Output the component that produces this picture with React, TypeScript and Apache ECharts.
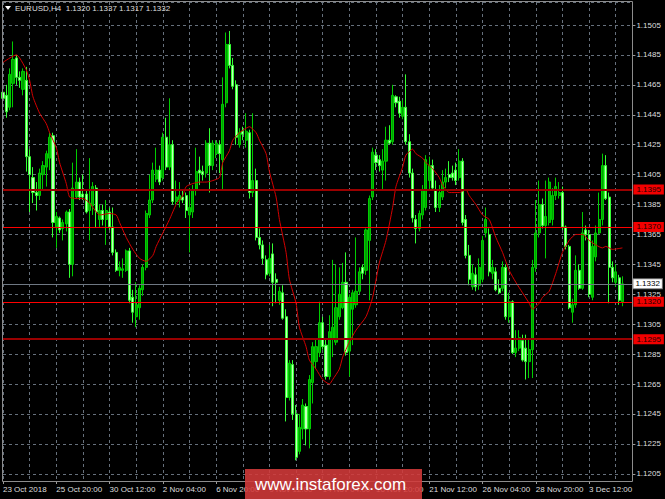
import { useEffect, useRef } from "react";
import * as echarts from "echarts";

// ---------- data ----------
const symbolName = "EURUSD,H4";
const lastBarOHLC = [1.132, 1.1337, 1.1317, 1.1332];

const timeLabels = [
  "23 Oct 2018", "25 Oct 20:00", "30 Oct 12:00", "2 Nov 04:00", "6 Nov 20:00", "9 Nov 12:00",
  "14 Nov 04:00", "16 Nov 20:00", "21 Nov 12:00", "26 Nov 04:00", "28 Nov 20:00", "3 Dec 12:00",
];
const barsPerLabel = 16;
const barsPerGridLine = 8;
const slotCount = 190; // 187 H4 bars + empty space on the right

// [open, close, low, high]
const candles: number[][] = [
  [1.1460, 1.1456, 1.1452, 1.1466], [1.1458, 1.1447, 1.1443, 1.1465], [1.1450, 1.1472, 1.1448, 1.1476],
  [1.1466, 1.1482, 1.1450, 1.1494], [1.1483, 1.1470, 1.1465, 1.1485], [1.1470, 1.1468, 1.1463, 1.1474],
  [1.1462, 1.1474, 1.1458, 1.1476], [1.1468, 1.1417, 1.1407, 1.1477], [1.1417, 1.1405, 1.1380, 1.1422],
  [1.1403, 1.1393, 1.1386, 1.1410], [1.1393, 1.1391, 1.1381, 1.1400], [1.1391, 1.1406, 1.1388, 1.1409],
  [1.1405, 1.1411, 1.1395, 1.1414], [1.1410, 1.1419, 1.1397, 1.1421], [1.1416, 1.1430, 1.1408, 1.1433],
  [1.1431, 1.1373, 1.1363, 1.1433], [1.1370, 1.1377, 1.1356, 1.1380], [1.1376, 1.1368, 1.1366, 1.1377],
  [1.1369, 1.1373, 1.1361, 1.1375], [1.1372, 1.1380, 1.1367, 1.1381], [1.1380, 1.1345, 1.1336, 1.1382],
  [1.1345, 1.1396, 1.1337, 1.1413], [1.1390, 1.1400, 1.1389, 1.1422], [1.1400, 1.1390, 1.1388, 1.1403],
  [1.1392, 1.1390, 1.1388, 1.1405], [1.1392, 1.1380, 1.1379, 1.1395], [1.1381, 1.1386, 1.1361, 1.1416],
  [1.1384, 1.1397, 1.1378, 1.1400], [1.1396, 1.1380, 1.1370, 1.1398], [1.1375, 1.1381, 1.1370, 1.1385],
  [1.1381, 1.1375, 1.1371, 1.1385], [1.1375, 1.1381, 1.1358, 1.1388], [1.1380, 1.1370, 1.1368, 1.1383],
  [1.1370, 1.1353, 1.1351, 1.1383], [1.1353, 1.1341, 1.1340, 1.1355], [1.1341, 1.1343, 1.1337, 1.1347],
  [1.1341, 1.1342, 1.1336, 1.1349], [1.1341, 1.1354, 1.1340, 1.1355], [1.1354, 1.1321, 1.1319, 1.1356],
  [1.1323, 1.1313, 1.1306, 1.1328], [1.1310, 1.1318, 1.1303, 1.1333], [1.1316, 1.1329, 1.1308, 1.1331],
  [1.1328, 1.1343, 1.1324, 1.1345], [1.1343, 1.1379, 1.1341, 1.1381], [1.1378, 1.1388, 1.1376, 1.1405],
  [1.1388, 1.1408, 1.1386, 1.1413], [1.1402, 1.1408, 1.1400, 1.1423], [1.1408, 1.1400, 1.1398, 1.1411],
  [1.1403, 1.1430, 1.1401, 1.1433], [1.1430, 1.1410, 1.1408, 1.1443], [1.1410, 1.1425, 1.1408, 1.1456],
  [1.1425, 1.1387, 1.1385, 1.1428], [1.1387, 1.1390, 1.1385, 1.1401], [1.1388, 1.1391, 1.1383, 1.1400],
  [1.1390, 1.1388, 1.1386, 1.1395], [1.1391, 1.1381, 1.1376, 1.1393], [1.1378, 1.1383, 1.1353, 1.1396],
  [1.1380, 1.1395, 1.1376, 1.1398], [1.1395, 1.1407, 1.1391, 1.1423], [1.1408, 1.1406, 1.1398, 1.1417],
  [1.1407, 1.1405, 1.1401, 1.1411], [1.1406, 1.1426, 1.1403, 1.1428], [1.1426, 1.1411, 1.1393, 1.1436],
  [1.1411, 1.1426, 1.1408, 1.1428], [1.1419, 1.1426, 1.1416, 1.1428], [1.1425, 1.1419, 1.1406, 1.1428],
  [1.1415, 1.1452, 1.1395, 1.1470], [1.1453, 1.1492, 1.1450, 1.1500], [1.1492, 1.1478, 1.1476, 1.1501],
  [1.1478, 1.1464, 1.1462, 1.1483], [1.1465, 1.1430, 1.1425, 1.1468], [1.1425, 1.1433, 1.1423, 1.1436],
  [1.1434, 1.1432, 1.1428, 1.1437], [1.1428, 1.1434, 1.1423, 1.1446], [1.1433, 1.1393, 1.1389, 1.1435],
  [1.1393, 1.1401, 1.1390, 1.1446], [1.1401, 1.1363, 1.1361, 1.1409], [1.1363, 1.1358, 1.1355, 1.1369],
  [1.1358, 1.1349, 1.1345, 1.1361], [1.1348, 1.1338, 1.1335, 1.1351], [1.1339, 1.1349, 1.1337, 1.1358],
  [1.1352, 1.1333, 1.1317, 1.1359], [1.1335, 1.1333, 1.1319, 1.1339], [1.1321, 1.1327, 1.1318, 1.1330],
  [1.1326, 1.1309, 1.1308, 1.1331], [1.1310, 1.1256, 1.1240, 1.1315], [1.1256, 1.1279, 1.1254, 1.1281],
  [1.1278, 1.1245, 1.1241, 1.1281], [1.1245, 1.1216, 1.1214, 1.1251], [1.1220, 1.1236, 1.1218, 1.1245],
  [1.1235, 1.1251, 1.1228, 1.1255], [1.1250, 1.1235, 1.1224, 1.1252], [1.1235, 1.1268, 1.1222, 1.1271],
  [1.1266, 1.1290, 1.1252, 1.1293], [1.1280, 1.1290, 1.1275, 1.1295], [1.1286, 1.1306, 1.1283, 1.1320],
  [1.1306, 1.1290, 1.1288, 1.1310], [1.1291, 1.1270, 1.1268, 1.1295], [1.1270, 1.1300, 1.1268, 1.1311],
  [1.1295, 1.1303, 1.1283, 1.1348], [1.1293, 1.1316, 1.1291, 1.1345], [1.1310, 1.1325, 1.1308, 1.1343],
  [1.1316, 1.1333, 1.1315, 1.1346], [1.1333, 1.1286, 1.1284, 1.1353], [1.1287, 1.1323, 1.1270, 1.1325],
  [1.1315, 1.1326, 1.1291, 1.1328], [1.1318, 1.1327, 1.1316, 1.1363], [1.1327, 1.1340, 1.1325, 1.1343],
  [1.1343, 1.1339, 1.1335, 1.1345], [1.1341, 1.1368, 1.1338, 1.1369], [1.1361, 1.1389, 1.1321, 1.1391],
  [1.1390, 1.1420, 1.1388, 1.1423], [1.1418, 1.1413, 1.1408, 1.1422], [1.1415, 1.1411, 1.1407, 1.1418],
  [1.1408, 1.1414, 1.1395, 1.1422], [1.1414, 1.1428, 1.1401, 1.1437], [1.1428, 1.1426, 1.1425, 1.1438],
  [1.1427, 1.1458, 1.1425, 1.1465], [1.1457, 1.1453, 1.1450, 1.1458], [1.1454, 1.1446, 1.1443, 1.1457],
  [1.1444, 1.1450, 1.1442, 1.1455], [1.1450, 1.1427, 1.1425, 1.1472], [1.1427, 1.1406, 1.1403, 1.1432],
  [1.1406, 1.1376, 1.1373, 1.1409], [1.1375, 1.1369, 1.1359, 1.1378], [1.1369, 1.1379, 1.1367, 1.1381],
  [1.1378, 1.1395, 1.1375, 1.1398], [1.1383, 1.1415, 1.1381, 1.1418], [1.1401, 1.1411, 1.1395, 1.1417],
  [1.1411, 1.1396, 1.1395, 1.1415], [1.1395, 1.1383, 1.1380, 1.1401], [1.1383, 1.1393, 1.1380, 1.1398],
  [1.1390, 1.1400, 1.1388, 1.1408], [1.1400, 1.1403, 1.1396, 1.1409], [1.1405, 1.1403, 1.1400, 1.1414],
  [1.1406, 1.1403, 1.1401, 1.1411], [1.1408, 1.1401, 1.1398, 1.1413], [1.1403, 1.1414, 1.1401, 1.1422],
  [1.1414, 1.1373, 1.1371, 1.1416], [1.1375, 1.1351, 1.1349, 1.1378], [1.1351, 1.1335, 1.1331, 1.1358],
  [1.1330, 1.1339, 1.1328, 1.1345], [1.1338, 1.1330, 1.1327, 1.1343], [1.1331, 1.1343, 1.1328, 1.1349],
  [1.1335, 1.1361, 1.1333, 1.1364], [1.1366, 1.1375, 1.1363, 1.1383], [1.1365, 1.1340, 1.1337, 1.1369],
  [1.1339, 1.1343, 1.1335, 1.1348], [1.1340, 1.1328, 1.1327, 1.1343], [1.1329, 1.1326, 1.1325, 1.1335],
  [1.1329, 1.1343, 1.1327, 1.1347], [1.1343, 1.1310, 1.1308, 1.1345], [1.1310, 1.1320, 1.1306, 1.1326],
  [1.1320, 1.1286, 1.1285, 1.1321], [1.1286, 1.1289, 1.1283, 1.1301], [1.1289, 1.1296, 1.1287, 1.1301],
  [1.1294, 1.1281, 1.1280, 1.1298], [1.1289, 1.1280, 1.1268, 1.1298], [1.1280, 1.1288, 1.1269, 1.1295],
  [1.1288, 1.1343, 1.1269, 1.1348], [1.1343, 1.1366, 1.1340, 1.1388], [1.1366, 1.1385, 1.1363, 1.1401],
  [1.1385, 1.1371, 1.1369, 1.1389], [1.1371, 1.1377, 1.1349, 1.1401], [1.1373, 1.1400, 1.1371, 1.1403],
  [1.1375, 1.1391, 1.1371, 1.1396], [1.1391, 1.1397, 1.1388, 1.1403], [1.1391, 1.1393, 1.1389, 1.1400],
  [1.1393, 1.1370, 1.1368, 1.1397], [1.1370, 1.1357, 1.1355, 1.1371], [1.1357, 1.1316, 1.1315, 1.1358],
  [1.1313, 1.1318, 1.1306, 1.1322], [1.1318, 1.1341, 1.1316, 1.1351], [1.1341, 1.1329, 1.1328, 1.1345],
  [1.1329, 1.1366, 1.1328, 1.1380], [1.1368, 1.1365, 1.1361, 1.1371], [1.1365, 1.1325, 1.1323, 1.1368],
  [1.1323, 1.1357, 1.1321, 1.1361], [1.1350, 1.1366, 1.1347, 1.1371], [1.1366, 1.1375, 1.1365, 1.1393],
  [1.1375, 1.1411, 1.1371, 1.1419], [1.1411, 1.1389, 1.1388, 1.1418], [1.1390, 1.1343, 1.1319, 1.1393],
  [1.1343, 1.1336, 1.1333, 1.1347], [1.1333, 1.1340, 1.1330, 1.1345], [1.1336, 1.1321, 1.1318, 1.1338],
  [1.1320, 1.1332, 1.1317, 1.1337],
];

// moving average, read at selected bars
const maIndex = [
  0, 4, 5, 7, 8, 9, 11, 13, 14, 16, 17, 19, 20, 22, 24, 26, 28, 29, 32, 34, 35, 37, 39, 41, 43, 45, 46, 48,
  50, 52, 54, 55, 57, 59, 61, 63, 65, 66, 68, 69, 71, 73, 74, 76, 77, 79, 80, 82, 83, 85, 86, 88, 89, 91, 92,
  94, 96, 98, 99, 101, 102, 104, 106, 109, 111, 113, 115, 117, 118, 120, 121, 123, 124, 126, 127, 129, 131,
  132, 134, 137, 139, 140, 142, 144, 146, 148, 150, 152, 154, 156, 158, 159, 161, 162, 164, 166, 168, 170,
  172, 174, 176, 178, 180, 181, 183, 186,
];
const maValues = [
  1.1480, 1.1485, 1.1483, 1.1475, 1.1468, 1.1457, 1.1446, 1.1439, 1.1433, 1.1423, 1.1413, 1.1399, 1.1390,
  1.1389, 1.1389, 1.1386, 1.1380, 1.1378, 1.1379, 1.1378, 1.1373, 1.1363, 1.1355, 1.1349, 1.1347, 1.1351,
  1.1357, 1.1366, 1.1375, 1.1385, 1.1391, 1.1397, 1.1399, 1.1400, 1.1400, 1.1401, 1.1403, 1.1413, 1.1421,
  1.1428, 1.1433, 1.1436, 1.1437, 1.1433, 1.1428, 1.1419, 1.1407, 1.1390, 1.1375, 1.1353, 1.1335, 1.1319,
  1.1303, 1.1290, 1.1281, 1.1275, 1.1268, 1.1265, 1.1268, 1.1275, 1.1283, 1.1293, 1.1301, 1.1310, 1.1323,
  1.1346, 1.1361, 1.1383, 1.1397, 1.1410, 1.1418, 1.1422, 1.1419, 1.1416, 1.1413, 1.1409, 1.1403, 1.1398,
  1.1393, 1.1393, 1.1395, 1.1391, 1.1385, 1.1378, 1.1375, 1.1363, 1.1353, 1.1341, 1.1333, 1.1326, 1.1319,
  1.1315, 1.1319, 1.1323, 1.1327, 1.1339, 1.1353, 1.1361, 1.1365, 1.1365, 1.1361, 1.1358, 1.1356, 1.1357,
  1.1355, 1.1356,
];

const levelPrices = [1.1395, 1.137, 1.132, 1.1295];
const levelIsStrong = [true, false, false, true];
const currentPrice = 1.1332;
const priceTickStart = 1.1205;
const priceTickStep = 0.002;

// ---------- layout ----------
const W = 665;
const H = 499;
const PX_PER_PRICE = 14960;
const REF_PRICE = 1.1505;
const REF_Y = 25;
const PLOT_TOP = 2;
const PLOT_BOTTOM = 481;
const PLOT_LEFT = 3;
const PLOT_RIGHT = 632.4;
const priceTop = REF_PRICE + (REF_Y - PLOT_TOP) / PX_PER_PRICE;
const priceBottom = REF_PRICE - (PLOT_BOTTOM - REF_Y) / PX_PER_PRICE;
const tickGridBottomY = REF_Y + (REF_PRICE - priceTickStart) * PX_PER_PRICE;

const FONT = "Liberation Sans, Arial, sans-serif";
const GRID_COLOR = "#66707c";
const TEXT_COLOR = "#dedede";

export default function App() {
  const ref = useRef<HTMLDivElement>(null);

  useEffect(() => {
    if (!ref.current) return;
    const chart = echarts.init(ref.current, undefined, { renderer: "svg" });
    const categories = Array.from({ length: slotCount }, (_, i) => String(i));

    const levelLines: any[] = levelPrices.map((p, k) => ({
      yAxis: p,
      lineStyle: {
        color: levelIsStrong[k] ? "#9a0000" : "#ff0000",
        width: levelIsStrong[k] ? 2 : 1,
        type: "solid",
      },
      label: {
        show: true,
        position: "end",
        distance: 1,
        formatter: () => p.toFixed(4),
        backgroundColor: "#f20000",
        color: "#1a0000",
        fontSize: 8,
        fontFamily: FONT,
        padding: [1, 3, 1, 3],
      },
    }));
    levelLines.push({
      yAxis: currentPrice,
      lineStyle: { color: "#6f7883", width: 1, type: "solid" },
      label: {
        show: true,
        position: "end",
        distance: 1,
        formatter: () => currentPrice.toFixed(4),
        backgroundColor: "#ffffff",
        borderColor: "#7a7a7a",
        borderWidth: 1,
        color: "#000000",
        fontSize: 8,
        fontFamily: FONT,
        padding: [1, 2, 0, 2],
      },
    });

    const headerText = `${symbolName}  ${lastBarOHLC.map((v) => v.toFixed(4)).join(" ")}`;

    chart.setOption({
      animation: false,
      backgroundColor: "#000000",
      grid: [
        { left: PLOT_LEFT, right: W - PLOT_RIGHT, top: PLOT_TOP, bottom: H - PLOT_BOTTOM },
        { left: PLOT_LEFT, right: W - PLOT_RIGHT, top: PLOT_TOP, bottom: H - tickGridBottomY },
      ],
      xAxis: [
        {
          type: "category",
          gridIndex: 0,
          data: categories,
          boundaryGap: false,
          axisLine: { show: false },
          axisTick: {
            show: true,
            interval: barsPerLabel - 1,
            length: 3,
            lineStyle: { color: "#9a9a9a" },
          },
          axisLabel: {
            interval: barsPerLabel - 1,
            formatter: (_v: string, idx: number) => timeLabels[idx / barsPerLabel] ?? "",
            align: "left",
            color: TEXT_COLOR,
            fontSize: 8,
            fontFamily: FONT,
            margin: 4,
          },
          splitLine: {
            show: true,
            interval: barsPerGridLine - 1,
            lineStyle: { color: GRID_COLOR, type: [3, 3], width: 1 },
          },
        },
        {
          type: "category",
          gridIndex: 1,
          data: categories,
          boundaryGap: false,
          show: false,
        },
      ],
      yAxis: [
        {
          type: "value",
          gridIndex: 0,
          min: priceBottom,
          max: priceTop,
          show: false,
          splitLine: { show: false },
        },
        {
          type: "value",
          gridIndex: 1,
          position: "right",
          min: priceTickStart,
          max: priceTop,
          interval: priceTickStep,
          axisLine: { show: false },
          axisTick: { show: true, length: 3, lineStyle: { color: "#9a9a9a" } },
          axisLabel: {
            color: TEXT_COLOR,
            fontSize: 8,
            fontFamily: FONT,
            margin: 4,
            showMaxLabel: false,
            formatter: (v: number) => v.toFixed(4),
          },
          splitLine: {
            show: true,
            lineStyle: { color: GRID_COLOR, type: [3, 3], width: 1 },
          },
        },
      ],
      series: [
        {
          type: "candlestick",
          xAxisIndex: 0,
          yAxisIndex: 0,
          data: candles,
          barWidth: 2.6,
          clip: false,
          z: 2,
          itemStyle: {
            color: "#00a000",
            color0: "#c4ffbc",
            borderColor: "#00cc00",
            borderColor0: "#33ff33",
            borderWidth: 1,
          },
          markLine: {
            silent: true,
            precision: 4,
            symbol: ["none", "none"],
            animation: false,
            data: levelLines,
          },
        },
        {
          type: "line",
          xAxisIndex: 0,
          yAxisIndex: 0,
          data: maIndex.map((x, k) => [x, maValues[k]]),
          smooth: 0.2,
          showSymbol: false,
          symbol: "none",
          z: 3,
          lineStyle: { color: "#d40000", width: 1 },
        },
      ],
      graphic: [
        {
          type: "rect",
          silent: true,
          z: 10,
          shape: { x: 2.5, y: 1.5, width: 630, height: 480 },
          style: { fill: "transparent", stroke: "#8c8c8c", lineWidth: 1 },
        },
        {
          type: "polygon",
          silent: true,
          z: 10,
          shape: { points: [[5, 6], [11, 6], [8, 10]] },
          style: { fill: "#ffffff" },
        },
        {
          type: "text",
          silent: true,
          z: 10,
          x: 15,
          y: 8,
          style: {
            text: headerText,
            fill: TEXT_COLOR,
            font: `8px ${FONT}`,
            verticalAlign: "middle",
          },
        },
        {
          type: "rect",
          silent: true,
          z: 20,
          shape: { x: 245, y: 469, width: 177, height: 30 },
          style: { fill: "rgba(212,58,58,0.88)" },
        },
        {
          type: "text",
          silent: true,
          z: 21,
          x: 255,
          y: 484,
          style: {
            text: "www.instaforex.com",
            fill: "#ffffff",
            font: `17px ${FONT}`,
            verticalAlign: "middle",
          },
        },
      ],
    });

    return () => chart.dispose();
  }, []);

  return (
    <div
      ref={ref}
      style={{ position: "fixed", left: 0, top: 0, width: W, height: H, background: "#000" }}
    />
  );
}
